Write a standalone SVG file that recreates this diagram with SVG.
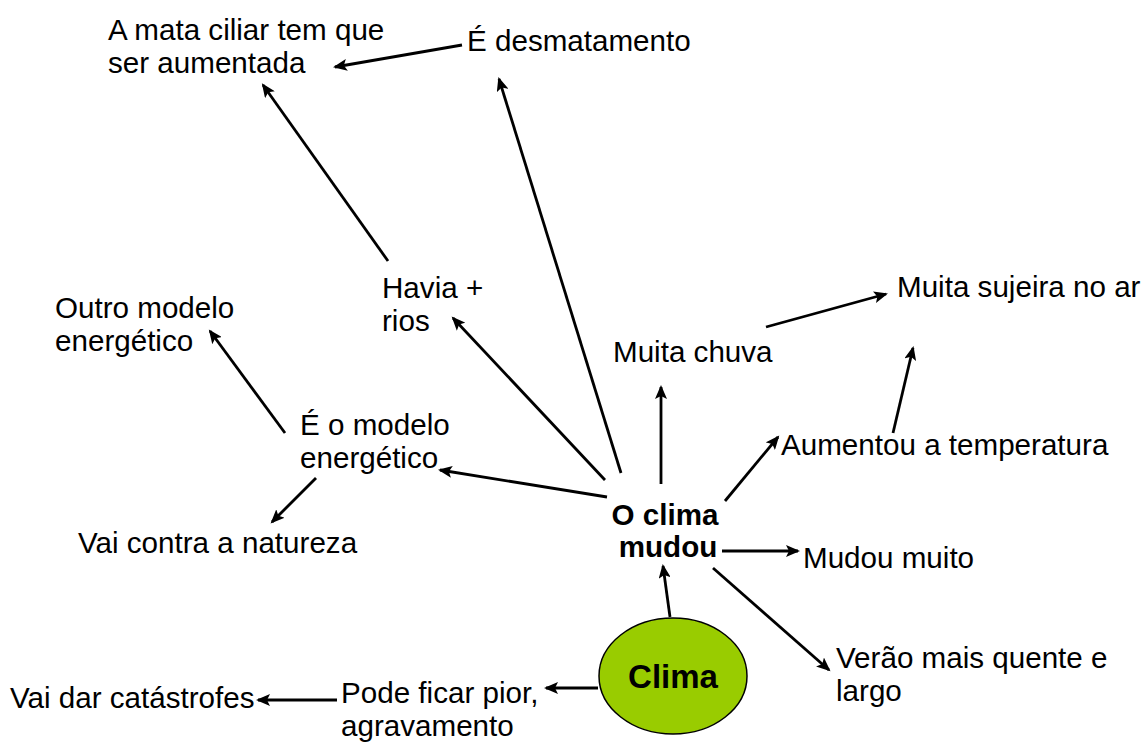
<svg xmlns="http://www.w3.org/2000/svg" width="1143" height="744" viewBox="0 0 1143 744">
<style>
text{font-family:"Liberation Sans",Arial,sans-serif;font-size:29.6px;fill:#000}
.b{font-weight:bold}
.c line{stroke:#000;stroke-width:2.8;marker-end:url(#ah)}
</style>
<defs>
<marker id="ah" markerUnits="userSpaceOnUse" markerWidth="15" markerHeight="12" refX="12" refY="6" orient="auto">
<path d="M0,0 L14,6 L0,12 L3,6 z" fill="#000"/>
</marker>
</defs>
<rect width="1143" height="744" fill="#fff"/>
<g class="c" id="connectors">
<line x1="670" y1="617" x2="663" y2="566"/>
<line x1="722" y1="551" x2="798" y2="551"/>
<line x1="713" y1="568" x2="829" y2="670"/>
<line x1="725" y1="501" x2="778" y2="437"/>
<line x1="893" y1="433" x2="913" y2="348"/>
<line x1="766" y1="327" x2="886" y2="294"/>
<line x1="661" y1="484" x2="661" y2="387"/>
<line x1="621" y1="473" x2="499" y2="79"/>
<line x1="605" y1="480" x2="453" y2="318"/>
<line x1="607" y1="497" x2="440" y2="470"/>
<line x1="388" y1="261" x2="263" y2="85"/>
<line x1="462" y1="45" x2="335" y2="67"/>
<line x1="285" y1="433" x2="210" y2="331"/>
<line x1="316" y1="478" x2="272" y2="522"/>
<line x1="598" y1="688" x2="546" y2="688"/>
<line x1="337" y1="700" x2="258" y2="700"/>
</g>
<g id="n-mata"><text x="108" y="40">A mata ciliar tem que</text><text x="108" y="73">ser aumentada</text></g>
<g id="n-desmat"><text x="467" y="51">É desmatamento</text></g>
<g id="n-havia"><text x="382" y="298">Havia +</text><text x="382" y="331">rios</text></g>
<g id="n-outro"><text x="55" y="318">Outro modelo</text><text x="55" y="351">energético</text></g>
<g id="n-sujeira"><text x="897" y="297">Muita sujeira no ar</text></g>
<g id="n-chuva"><text x="613" y="362">Muita chuva</text></g>
<g id="n-modelo"><text x="300" y="435">É o modelo</text><text x="300" y="468">energético</text></g>
<g id="n-temp"><text x="781" y="455">Aumentou a temperatura</text></g>
<g id="n-mudou"><text class="b" x="665" y="525" text-anchor="middle">O clima</text><text class="b" x="668" y="557" text-anchor="middle">mudou</text></g>
<g id="n-natureza"><text x="78" y="553">Vai contra a natureza</text></g>
<g id="n-muito"><text x="803" y="568">Mudou muito</text></g>
<g id="n-verao"><text x="836" y="668">Verão mais quente e</text><text x="836" y="701">largo</text></g>
<g id="n-clima"><ellipse cx="673" cy="676" rx="74" ry="58" fill="#99cc00" stroke="#000" stroke-width="1.5"/><text class="b" x="673" y="688" text-anchor="middle" style="font-size:33px">Clima</text></g>
<g id="n-catastrofes"><text x="10" y="708">Vai dar catástrofes</text></g>
<g id="n-pior"><text x="341" y="703">Pode ficar pior,</text><text x="341" y="736">agravamento</text></g>
</svg>
